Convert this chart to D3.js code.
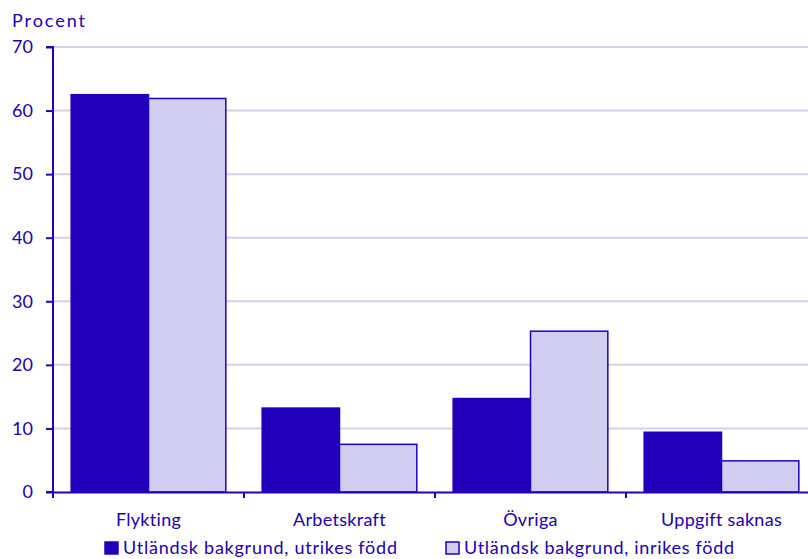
<!DOCTYPE html>
<html><head><meta charset="utf-8">
<script src="https://cdn.jsdelivr.net/npm/d3@7"></script>
<style>body{margin:0;background:#fff}svg{display:block}text{font-family:Lato,"Open Sans",sans-serif;fill:#2200aa}</style>
</head><body><svg id="c" width="808" height="559"></svg>
<script>
const categories = ["Flykting","Arbetskraft","Övriga","Uppgift saknas"];
const seriesNames = ["Utländsk bakgrund, utrikes född","Utländsk bakgrund, inrikes född"];
const utrikes = [62.5, 13.2, 14.7, 9.4];
const inrikes = [61.9, 7.5, 25.3, 4.9];
const yTicks = [0,10,20,30,40,50,60,70];

const colors = ["#2200bb","#d1cdf0"];
const stroke = "#2200bb";
const svg = d3.select("#c");
const x0 = 53, x1 = 817, yTop = 47, yBot = 492;
const x = d3.scaleBand().domain(categories).range([x0,x1]).paddingInner(0).paddingOuter(0);
const xs = d3.scaleBand().domain([0,1]).range([0,x.bandwidth()]).paddingInner(0).paddingOuter(0.235);
const y = d3.scaleLinear().domain([0,70]).range([yBot,yTop]);

// gridlines
svg.append("g").selectAll("line").data(yTicks.filter(d=>d>0)).join("line")
  .attr("x1",x0).attr("x2",808).attr("y1",d=>y(d)).attr("y2",d=>y(d))
  .attr("stroke","#d3d0ee").attr("stroke-width",2);

const data = [utrikes, inrikes];
const g = svg.append("g");
categories.forEach((c,i)=>{
  [0,1].forEach(s=>{
    g.append("rect")
      .attr("x", x(c)+xs(s)).attr("width", xs.bandwidth())
      .attr("y", y(data[s][i])).attr("height", yBot - y(data[s][i]))
      .attr("fill", colors[s]).attr("stroke", stroke).attr("stroke-width",1.5);
  });
});

// y axis
const ya = svg.append("g").attr("transform",`translate(${x0},0)`)
  .call(d3.axisLeft(y).tickValues(yTicks).tickSize(7).tickPadding(12));
ya.select(".domain").attr("stroke",stroke).attr("stroke-width",2).attr("d",`M-7,${yTop}H0V${yBot}H-7`);
ya.selectAll(".tick line").attr("stroke",stroke).attr("stroke-width",2);
ya.selectAll(".tick text").attr("font-size",18).attr("fill","#2200aa").attr("font-family","Lato").attr("x",-20);

// x axis
const xa = svg.append("g").attr("transform",`translate(0,${yBot})`)
  .call(d3.axisBottom(x).tickSize(0).tickPadding(20));
xa.select(".domain").attr("stroke",stroke).attr("stroke-width",2);
xa.selectAll(".tick text").attr("font-size",18).attr("fill","#2200aa").attr("font-family","Lato")
  .attr("dy",null).attr("y",34).attr("letter-spacing",0.3);
svg.append("g").selectAll("line").data(categories).join("line")
  .attr("x1",d=>x(d)).attr("x2",d=>x(d)).attr("y1",yBot).attr("y2",yBot+6)
  .attr("stroke",stroke).attr("stroke-width",2);

svg.append("text").attr("x",12).attr("y",27).attr("font-size",18)
  .attr("textLength",73).attr("lengthAdjust","spacing").text("Procent");

// legend
const legX = [105, 446];
const legW = [274, 270];
seriesNames.forEach((n,i)=>{
  svg.append("rect").attr("x",legX[i]).attr("y",542).attr("width",13).attr("height",12)
    .attr("fill",colors[i]).attr("stroke",stroke).attr("stroke-width",1.5);
  svg.append("text").attr("x",legX[i]+18).attr("y",554).attr("font-size",18)
    .attr("textLength",legW[i]).attr("lengthAdjust","spacing").text(n);
});
</script></body></html>
